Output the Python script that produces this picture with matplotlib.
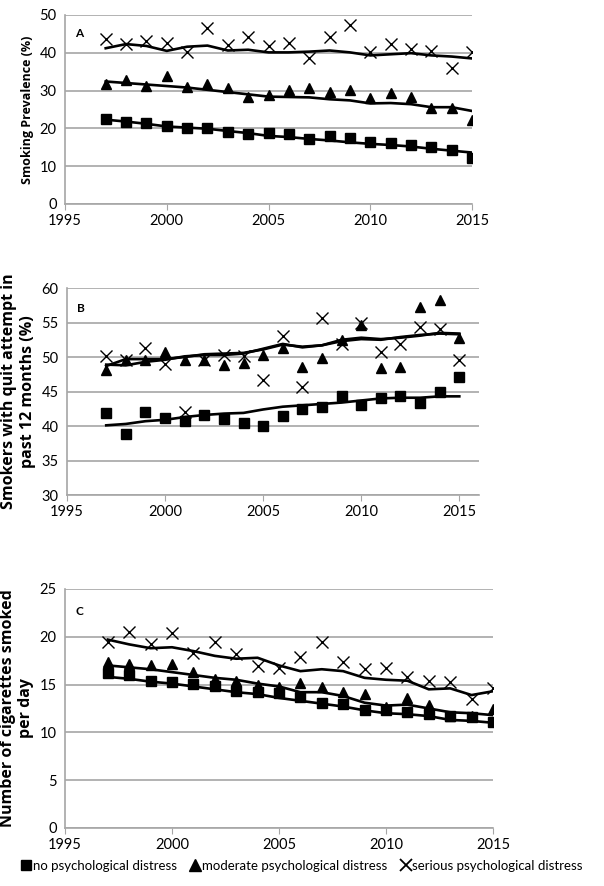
import numpy as np
import matplotlib
matplotlib.use("Agg")
import matplotlib.pyplot as plt
from matplotlib.lines import Line2D

plt.rcParams['font.family'] = ['Lato', 'DejaVu Sans']

years = list(range(1997, 2016))

# Panel A: smoking prevalence (%)
a_none = [22.5, 21.6, 21.4, 20.7, 20.2, 20.1, 19.0, 18.4, 18.8, 18.5, 17.3, 18.0, 17.4, 16.5, 16.0, 15.5, 15.1, 14.3, 12.1]
a_mod = [31.8, 32.8, 31.3, 33.9, 30.9, 31.8, 30.6, 28.3, 28.9, 30.2, 30.6, 29.5, 30.2, 28.0, 29.3, 28.2, 25.3, 25.3, 22.3]
a_ser = [43.6, 42.3, 43.2, 42.7, 40.3, 46.6, 42.1, 44.1, 41.9, 42.7, 38.7, 44.3, 47.3, 40.1, 42.3, 40.9, 40.5, 35.9, 40.3]
a_none_fit = [22.3, 21.8, 21.2, 20.5, 20.2, 19.9, 19.3, 18.75, 18.0, 17.7, 17.2, 16.8, 16.3, 15.9, 15.6, 15.2, 14.6, 14.1, 13.6]
a_mod_fit = [32.4, 32.0, 31.6, 31.2, 30.8, 30.2, 29.6, 29.0, 28.4, 28.3, 28.2, 27.7, 27.4, 26.6, 26.7, 26.4, 25.6, 25.6, 24.6]
a_ser_fit = [41.2, 42.3, 41.8, 40.5, 41.6, 41.9, 40.6, 40.8, 40.1, 40.1, 40.3, 40.6, 40.1, 39.3, 39.6, 39.9, 39.3, 39.0, 38.5]

# Panel B: smokers with quit attempt in past 12 months (%)
b_none = [41.9, 38.8, 42.0, 41.2, 40.7, 41.6, 41.0, 40.5, 40.0, 41.4, 42.4, 42.8, 44.4, 43.1, 44.1, 44.4, 43.4, 45.0, 47.1]
b_mod = [48.1, 49.5, 49.5, 50.8, 49.6, 49.6, 48.9, 49.2, 50.3, 51.3, 48.6, 49.9, 52.5, 54.7, 48.4, 48.6, 57.3, 58.3, 52.8]
b_ser = [50.1, 49.6, 51.3, 49.0, 42.1, 49.6, 50.3, 50.1, 46.6, 53.1, 45.7, 55.7, 51.9, 54.9, 50.8, 51.9, 54.3, 54.1, 49.5]
b_none_fit = [40.1, 40.3, 40.7, 40.9, 41.3, 41.6, 41.8, 41.9, 42.4, 42.8, 43.0, 43.2, 43.4, 43.7, 44.0, 44.1, 44.1, 44.3, 44.3]
b_mod_fit = [48.7, 49.7, 49.7, 49.7, 50.0, 50.4, 50.5, 50.6, 51.1, 51.8, 51.5, 51.7, 52.5, 52.8, 52.6, 52.8, 53.1, 53.5, 53.4]
b_ser_fit = [48.9, 48.8, 49.3, 49.6, 50.1, 50.3, 50.3, 50.5, 51.2, 51.9, 51.4, 51.7, 52.3, 52.6, 52.5, 52.9, 53.2, 53.4, 53.3]

# Panel C: cigarettes smoked per day
c_none = [16.2, 16.0, 15.4, 15.3, 15.1, 14.8, 14.3, 14.2, 14.1, 13.7, 13.1, 13.0, 12.3, 12.3, 12.1, 11.9, 11.7, 11.6, 11.1]
c_mod = [17.4, 17.1, 17.0, 17.1, 16.3, 15.6, 15.4, 15.0, 14.7, 15.2, 14.7, 14.2, 14.0, 12.6, 13.6, 12.9, 11.7, 11.7, 12.4]
c_ser = [19.5, 20.5, 19.2, 20.4, 18.3, 19.5, 18.2, 16.9, 16.7, 17.9, 19.4, 17.4, 16.6, 16.7, 15.8, 15.4, 15.3, 13.5, 14.6]
c_none_fit = [15.8, 15.6, 15.3, 15.1, 14.8, 14.5, 14.2, 14.0, 13.6, 13.3, 13.0, 12.7, 12.3, 12.0, 11.9, 11.7, 11.3, 11.2, 11.0]
c_mod_fit = [17.0, 16.8, 16.6, 16.3, 16.0, 15.7, 15.5, 15.1, 14.8, 14.2, 14.2, 13.8, 13.1, 12.8, 12.9, 12.5, 12.1, 12.0, 11.8]
c_ser_fit = [19.7, 19.2, 18.8, 18.9, 18.5, 18.0, 17.7, 17.8, 17.0, 16.4, 16.6, 16.4, 15.7, 15.5, 15.4, 14.5, 14.6, 13.9, 14.3]

labels = ["no psychological distress", "moderate psychological distress", "serious psychological distress"]

grid_col = "#a6a6a6"

fig = plt.figure(figsize=(6.04, 8.86), dpi=100)

panels = [
    dict(rect=[0.1076, 0.7698, 0.674, 0.2133], xmax=2015, ylim=(0, 50), step=10, tag="A",
         ylabel="Smoking Prevalence (%)", ysize=9,
         data=(a_none, a_mod, a_ser), fits=(a_none_fit, a_mod_fit, a_ser_fit)),
    dict(rect=[0.1109, 0.4413, 0.682, 0.2336], xmax=2016, ylim=(30, 60), step=5, tag="B",
         ylabel="Smokers with quit attempt in\npast 12 months (%)", ysize=11.5,
         data=(b_none, b_mod, b_ser), fits=(b_none_fit, b_mod_fit, b_ser_fit)),
    dict(rect=[0.1076, 0.0655, 0.7086, 0.2698], xmax=2015, ylim=(0, 25), step=5, tag="C",
         ylabel="Number of cigarettes smoked\nper day", ysize=11.5,
         data=(c_none, c_mod, c_ser), fits=(c_none_fit, c_mod_fit, c_ser_fit)),
]

for p in panels:
    ax = fig.add_axes(p["rect"])
    none, mod, ser = p["data"]
    for fit in p["fits"]:
        ax.plot(years, fit, color="black", lw=1.9, zorder=3)
    ax.plot(years, none, ls="none", marker="s", ms=7, color="black", zorder=4)
    ax.plot(years, mod, ls="none", marker="^", ms=7.5, color="black", zorder=4)
    ax.plot(years, ser, ls="none", marker="x", ms=8, mew=1.0, color="black", zorder=4)

    ax.set_xlim(1995, p["xmax"])
    ax.set_ylim(*p["ylim"])
    ax.set_xticks(range(1995, 2016, 5))
    ax.set_yticks(np.arange(p["ylim"][0], p["ylim"][1] + 0.1, p["step"]))
    ax.yaxis.grid(True, color=grid_col, lw=1.2)
    ax.set_axisbelow(True)
    for s in ["top", "right"]:
        ax.spines[s].set_visible(False)
    for s in ["left", "bottom"]:
        ax.spines[s].set_color(grid_col)
        ax.spines[s].set_linewidth(1.2)
    ax.tick_params(axis="y", length=0, labelsize=10.5, pad=6)
    ax.tick_params(axis="x", length=4, color=grid_col, labelsize=10.5, pad=3)
    ax.set_ylabel(p["ylabel"], fontsize=p["ysize"], fontweight="bold", family=["Open Sans", "DejaVu Sans"])
    ax.text(0.025, 0.93, p["tag"], transform=ax.transAxes, fontsize=8.5, fontweight="bold",
            ha="left", va="top")

handles = [
    Line2D([], [], ls="none", marker="s", ms=7.5, color="black"),
    Line2D([], [], ls="none", marker="^", ms=8, color="black"),
    Line2D([], [], ls="none", marker="x", ms=8.5, mew=1.3, color="black"),
]
fig.legend(handles, labels, loc="center", bbox_to_anchor=(0.5, 0.0225), ncol=3, frameon=False,
           fontsize=9.5, handlelength=0.8, handletextpad=0.1, columnspacing=1.0, borderaxespad=0)

fig.savefig("out.png", dpi=100, facecolor="white")
